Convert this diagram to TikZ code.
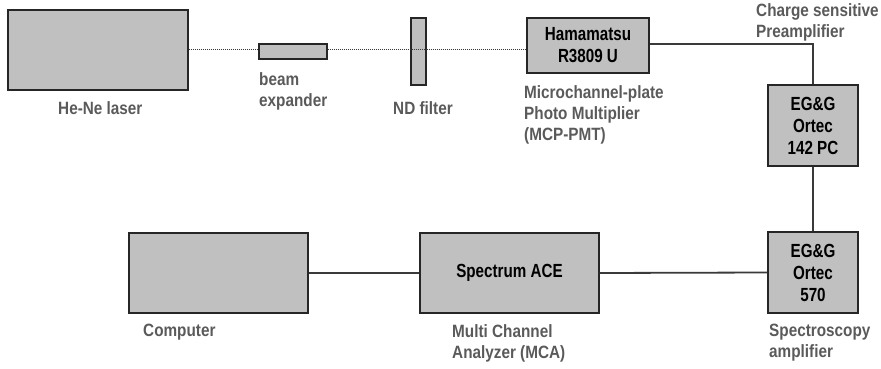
\documentclass[tikz,border=0pt]{standalone}
\usepackage{fontspec}
\setmainfont{Liberation Sans}[FakeStretch=0.86]
\newfontfamily\boxfont{Liberation Sans}[FakeStretch=0.8]
\usepackage{xcolor}
\usetikzlibrary{positioning}

\definecolor{boxgray}{HTML}{C0C0C0}
\definecolor{capgray}{HTML}{5A5A5A}
\definecolor{wiregray}{HTML}{3A3A3A}

\tikzset{
  unit/.style={draw=black!85, fill=boxgray, line width=1.3pt, inner sep=0pt,
    align=center, font=\boxfont\fontsize{19}{22}\selectfont\bfseries},
  caption/.style={text=capgray, inner sep=0pt, anchor=north west, align=left,
    font=\fontsize{17.8}{21}\selectfont\bfseries},
  wire/.style={draw=wiregray, line width=1.8pt},
  beam/.style={draw=wiregray, line width=0.8pt, dash pattern=on 1pt off 1pt}
}

\begin{document}
\begin{tikzpicture}[x=1pt, y=-1pt]
  \useasboundingbox (0,0) rectangle (881,369);
  % optics
  \node (laser) at (98,50) [unit, minimum width=180pt, minimum height=80pt] {};
  \node (expander) at (293,51.5) [unit, minimum width=68pt, minimum height=15pt] {};
  \node (filter) at (418.5,51.5) [unit, minimum width=15pt, minimum height=67pt] {};
  \node (pmt) at (588,45.5) [unit, minimum width=122pt, minimum height=55pt] {Hamamatsu\\R3809 U};
  % electronics
  \node (preamp) at (813,125.5) [unit, minimum width=90pt, minimum height=81pt] {EG\&G\\Ortec\\142 PC};
  \node (amp) at (813,272.5) [unit, minimum width=90pt, minimum height=81pt] {EG\&G\\Ortec\\570};
  \node (mca) at (509.5,273) [unit, minimum width=179pt, minimum height=80pt] {Spectrum ACE};
  \node (computer) at (218.5,273) [unit, minimum width=179pt, minimum height=80pt] {};
  % captions
  \node (laserlbl) at (58,101) [caption] {He-Ne laser};
  \node (explbl) at (259,72) [caption] {beam\\expander};
  \node (filterlbl) at (393,101) [caption] {ND filter};
  \node (pmtlbl) at (524,85) [caption] {Microchannel-plate\\Photo Multiplier\\(MCP-PMT)};
  \node (prelbl) at (756,3) [caption] {Charge sensitive\\Preamplifier};
  \node (amplbl) at (769,324) [caption] {Spectroscopy\\amplifier};
  \node (mcalbl) at (452,324) [caption] {Multi Channel\\Analyzer (MCA)};
  \node (complbl) at (143,324) [caption] {Computer};
  % light path
  \draw[beam] (laser.east |- 0,49) -- (expander.west |- 0,49);
  \draw[beam] (expander.east |- 0,49) -- (filter.east |- 0,49);
  \draw[beam] (filter.east |- 0,49) -- (pmt.west |- 0,49);
  % signal path
  \draw[wire] (pmt.east |- 0,44) -| (preamp.north);
  \draw[wire] (preamp.south) -- (amp.north);
  \draw[wire] (amp.west) -- (mca.east);
  \draw[wire] (mca.west) -- (computer.east);
\end{tikzpicture}
\end{document}
